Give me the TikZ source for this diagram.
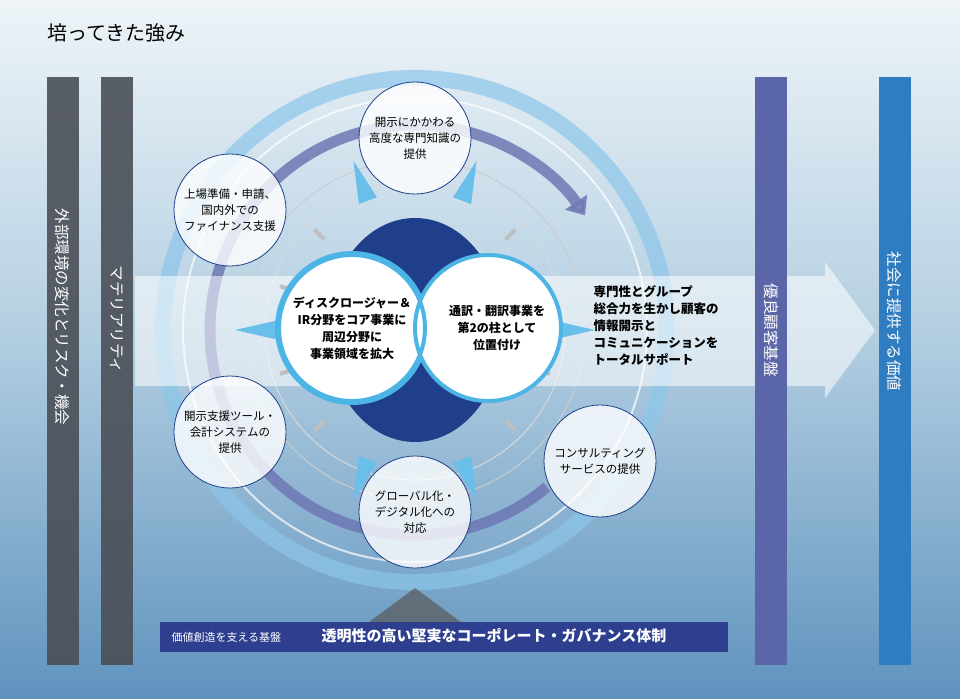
\documentclass[tikz,border=0pt]{standalone}
\usepackage{fontspec}
\setmainfont{Noto Sans CJK JP}
\usetikzlibrary{arrows.meta}
\definecolor{seaTop}{HTML}{EEF4F8}
\definecolor{seaMid}{HTML}{B4CFE2}
\definecolor{seaBot}{HTML}{5F93BE}
\definecolor{barGray}{HTML}{4A4F57}
\definecolor{barViolet}{HTML}{5A66A8}
\definecolor{barBlue}{HTML}{2F7CC0}
\definecolor{ringBlue}{HTML}{8CC6EA}
\definecolor{arcViolet}{HTML}{6E78B4}
\definecolor{coreBlue}{HTML}{1F3F8A}
\definecolor{rimCyan}{HTML}{4DB5E6}
\definecolor{baseBlue}{HTML}{2D3F8E}
\tikzset{
  vbar/.style={minimum width=32pt, minimum height=587pt, inner sep=0pt},
  vtext/.style={text=white, font=\fontsize{15.5}{15}\selectfont, rotate=-90},
  satellite/.style={circle, draw=coreBlue, thick, fill=white, fill opacity=0.8, text opacity=1,
    minimum size=112pt, align=center, font=\fontsize{11.5}{16}\selectfont},
  corecircle/.style={circle, draw=rimCyan, line width=4pt, fill=white,
    minimum size=150pt, align=center, font=\bfseries\fontsize{12}{17}\selectfont},
  pointer/.style={fill=rimCyan!85},
  tick/.style={draw=gray!50, line width=4pt}
}
\begin{document}
\begin{tikzpicture}[x=1pt,y=-1pt]
  \shade[top color=seaTop, bottom color=seaMid] (0,0) rectangle (960,330);
  \shade[top color=seaMid, bottom color=seaBot] (0,330) rectangle (960,698);
  \useasboundingbox (0,0) rectangle (960,698);
  \node[anchor=west, font=\fontsize{20}{20}\selectfont] (title) at (44,33) {培ってきた強み};
  % rings
  \coordinate (c) at (415,330);
  \draw[ringBlue, line width=16pt, opacity=0.7] (c) circle (252);
  \draw[white, line width=2pt, opacity=0.7] (c) circle (232);
  \draw[gray!40, line width=1pt] (c) circle (170);
  \draw[gray!30, line width=1pt] (c) circle (150);
  \draw[arcViolet, line width=11pt, opacity=0.85, -{Triangle[length=16pt,width=26pt]}]
    ([shift={(50:205)}]c) arc[start angle=50, end angle=326, radius=205];
  % band arrow
  \fill[white, opacity=0.55] (135,276) -- (825,276) -- (825,262) -- (875,330) -- (825,398) -- (825,386) -- (135,386) -- cycle;
  % ticks and pointers
  \foreach \a in {18,45,135,162,198,225,315,342} {
    \draw[tick] ([shift={(\a:128)}]c) -- ([shift={(\a:142)}]c);
  }
  \foreach \a in {0,70,110,180,250,290} {
    \fill[pointer] ([shift={(\a:180)}]c) -- ([shift={(\a+4:138)}]c) -- ([shift={(\a-4:138)}]c) -- cycle;
  }
  % core
  \fill[coreBlue] (c) ellipse (88 and 112);
  \node[corecircle] (left) at (352,328) {ディスクロージャー＆\\IR分野をコア事業に\\周辺分野に\\事業領域を拡大};
  \fill[white] (488,328) circle (73);
  \draw[rimCyan, line width=4pt] (488,328) circle (73);
  \draw[rimCyan, line width=4pt] (352,328) circle (73);
  \node[align=center, font=\bfseries\fontsize{12}{17}\selectfont] (rightText) at (497,328) {通訳・翻訳事業を\\第2の柱として\\位置付け};
  % satellites
  \node[satellite] (top) at (415,138) {開示にかかわる\\高度な専門知識の\\提供};
  \node[satellite] (upleft) at (230,210) {上場準備・申請、\\国内外での\\ファイナンス支援};
  \node[satellite] (lowleft) at (230,432) {開示支援ツール・\\会計システムの\\提供};
  \node[satellite] (bottom) at (415,512) {グローバル化・\\デジタル化への\\対応};
  \node[satellite] (lowright) at (600,461) {コンサルティング\\サービスの提供};
  \node[anchor=west, align=left, font=\bfseries\fontsize{12.5}{17}\selectfont] (value) at (590,325)
    {専門性とグループ\\総合力を生かし顧客の\\情報開示と\\コミュニケーションを\\トータルサポート};
  % vertical bars
  \node[vbar, fill=barGray, opacity=0.9] (ext) at (62.5,371) {};
  \node[vtext, anchor=west] at (62.5,205) {外部環境の変化とリスク・機会};
  \node[vbar, fill=barGray, opacity=0.9] (mat) at (117,371) {};
  \node[vtext, anchor=west] at (117,262) {マテリアリティ};
  \node[vbar, fill=barViolet] (client) at (771,371) {};
  \node[vtext, anchor=west] at (771,280) {優良顧客基盤};
  \node[vbar, fill=barBlue] (society) at (894.5,371) {};
  \node[vtext, anchor=west] at (894.5,248) {社会に提供する価値};
  % base
  \fill[gray!70!black, opacity=0.7] (365,625) -- (415,588) -- (465,625) -- cycle;
  \node[fill=baseBlue, minimum width=568pt, minimum height=30pt, inner sep=0pt] (base) at (444,637) {};
  \node[anchor=west, text=white, font=\fontsize{11}{11}\selectfont] (baseLabel) at (168,637) {価値創造を支える基盤};
  \node[anchor=west, text=white, font=\bfseries\fontsize{15}{15}\selectfont] (baseText) at (318,636) {透明性の高い堅実なコーポレート・ガバナンス体制};
\end{tikzpicture}
\end{document}
